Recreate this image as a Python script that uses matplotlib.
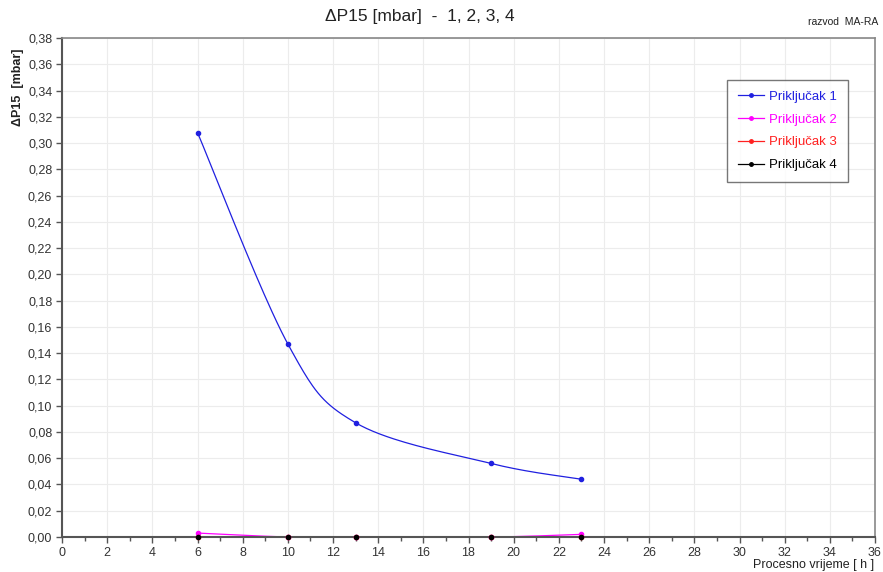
import numpy as np
import matplotlib
matplotlib.use("Agg")
import matplotlib.pyplot as plt
from matplotlib.ticker import MultipleLocator, FuncFormatter

plt.rcParams['font.family'] = ['Liberation Sans', 'DejaVu Sans']

hours = [6, 10, 13, 19, 23]
prikljucak_1 = [0.308, 0.147, 0.087, 0.056, 0.044]
prikljucak_2 = [0.003, 0.0, 0.0, 0.0, 0.002]
prikljucak_3 = [0.0, 0.0, 0.0, 0.0, 0.0]
prikljucak_4 = [0.0, 0.0, 0.0, 0.0, 0.0]
labels = ["Priključak 1", "Priključak 2", "Priključak 3", "Priključak 4"]
colors = ["#2020e0", "#ff00ff", "#ff2020", "#000000"]


def cardinal_spline(x, y, tension=0.5, n=40):
    # cardinal (catmull-rom like) spline through the points, for drawing only
    x = np.asarray(x, float)
    y = np.asarray(y, float)
    xs, ys = [], []
    for i in range(len(x) - 1):
        p0 = (x[max(i - 1, 0)], y[max(i - 1, 0)])
        p1 = (x[i], y[i])
        p2 = (x[i + 1], y[i + 1])
        p3 = (x[min(i + 2, len(x) - 1)], y[min(i + 2, len(x) - 1)])
        m1 = (tension * (p2[0] - p0[0]), tension * (p2[1] - p0[1]))
        m2 = (tension * (p3[0] - p1[0]), tension * (p3[1] - p1[1]))
        t = np.linspace(0, 1, n)
        h00 = 2 * t**3 - 3 * t**2 + 1
        h10 = t**3 - 2 * t**2 + t
        h01 = -2 * t**3 + 3 * t**2
        h11 = t**3 - t**2
        xs.append(h00 * p1[0] + h10 * m1[0] + h01 * p2[0] + h11 * m2[0])
        ys.append(h00 * p1[1] + h10 * m1[1] + h01 * p2[1] + h11 * m2[1])
    return np.concatenate(xs), np.concatenate(ys)


fig = plt.figure(figsize=(8.83, 5.72), dpi=100)
ax = fig.add_axes([62 / 883, 1 - 537 / 572, (875 - 62) / 883, (537 - 38) / 572])

series = [prikljucak_1, prikljucak_2, prikljucak_3, prikljucak_4]
for vals, lab, c in zip(series, labels, colors):
    sx, sy = cardinal_spline(hours, vals)
    ax.plot(sx, sy, color=c, lw=0.9, zorder=2)
    ax.plot(hours, vals, 'o', color=c, ms=3, zorder=4, clip_on=False)
    ax.plot([], [], '-o', color=c, lw=0.9, ms=2.5, label=lab)

ax.set_xlim(0, 36)
ax.set_ylim(0, 0.38)
ax.xaxis.set_major_locator(MultipleLocator(2))
ax.xaxis.set_minor_locator(MultipleLocator(1))
ax.yaxis.set_major_locator(MultipleLocator(0.02))
ax.yaxis.set_major_formatter(FuncFormatter(lambda v, p: f"{v:.2f}".replace(".", ",")))
ax.grid(True, which='major', color='#ececec', lw=0.8)
ax.set_axisbelow(True)

ax.tick_params(axis='both', which='major', direction='out', length=4, width=1,
               color='#555555', labelsize=9, labelcolor='#333333', pad=3)
ax.tick_params(axis='x', which='minor', direction='out', length=3, width=1, color='#555555')
for side in ['left', 'bottom']:
    ax.spines[side].set_color('#555555')
    ax.spines[side].set_linewidth(1.5)
for side in ['top', 'right']:
    ax.spines[side].set_color('#888888')
    ax.spines[side].set_linewidth(1.2)

fig.text(420 / 883, 1 - 17 / 572, "ΔP15 [mbar]  -  1, 2, 3, 4", ha='center', va='center',
         fontsize=12.5, color='#222222')
fig.text(878 / 883, 1 - 22 / 572, "razvod  MA-RA", ha='right', va='center',
         fontsize=7.5, color='#222222')
fig.text(18 / 883, 1 - 87 / 572, "ΔP15  [mbar]", rotation=90, ha='center', va='center',
         fontsize=9, color='#222222', fontweight='bold')
fig.text(874 / 883, 1 - 571 / 572, "Procesno vrijeme [ h ]", ha='right', va='bottom',
         fontsize=9, color='#222222')

leg = ax.legend(loc='upper left', bbox_to_anchor=(727 / 883, 1 - 80 / 572),
                bbox_transform=fig.transFigure, borderaxespad=0, fontsize=9.5,
                frameon=True, fancybox=False, edgecolor='#555555', handlelength=2.0,
                handletextpad=0.4, labelspacing=0.8, borderpad=0.8)
leg.get_frame().set_linewidth(1.0)
for txt, c in zip(leg.get_texts(), colors):
    txt.set_color(c)

fig.savefig("out.png", dpi=100)
